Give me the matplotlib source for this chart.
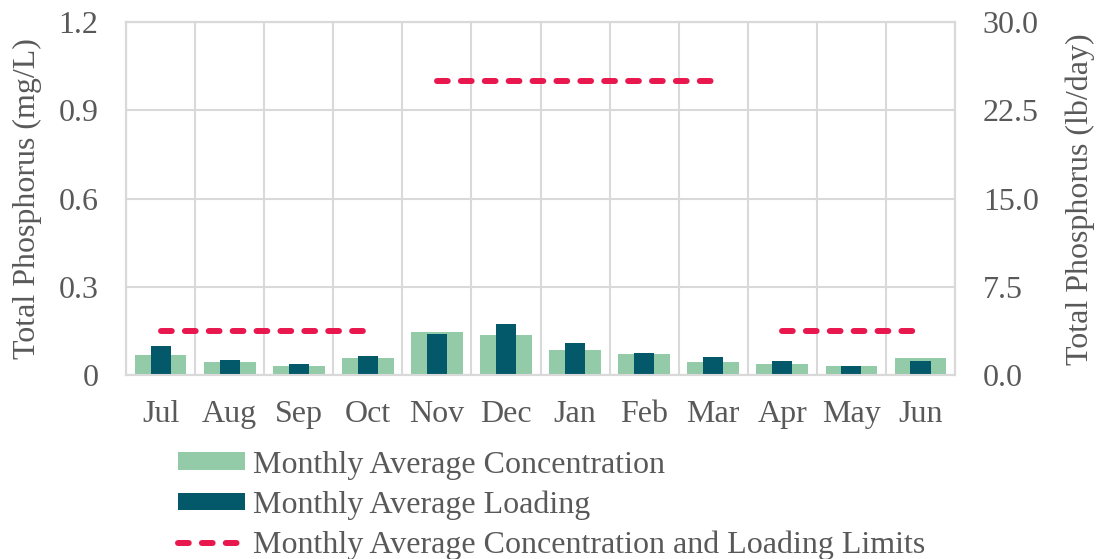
import numpy as np
import matplotlib.pyplot as plt
from matplotlib.patches import Patch
from matplotlib.lines import Line2D

# ---------------------------------------------------------
# data
# ---------------------------------------------------------
months = ["Jul", "Aug", "Sep", "Oct", "Nov", "Dec",
          "Jan", "Feb", "Mar", "Apr", "May", "Jun"]

# monthly average concentration, mg/L (left axis)
concentration = [0.069, 0.046, 0.031, 0.058, 0.148, 0.137,
                 0.088, 0.073, 0.045, 0.039, 0.033, 0.058]

# monthly average loading, lb/day (right axis)
loading = [2.52, 1.33, 0.99, 1.69, 3.51, 4.41,
           2.75, 1.92, 1.58, 1.27, 0.82, 1.25]

# limits in lb/day (right axis) -> 0.15 / 1.0 mg/L on the left
limit_segments = [
    (["Jul", "Aug", "Sep", "Oct"], [3.75, 3.75, 3.75, 3.75]),
    (["Nov", "Dec", "Jan", "Feb", "Mar"], [25.0, 25.0, 25.0, 25.0, 25.0]),
    (["Apr", "May", "Jun"], [3.75, 3.75, 3.75]),
]

conc_color = "#93CBA9"
load_color = "#03586A"
limit_color = "#E8184F"
text_color = "#595959"
grid_color = "#D9D9D9"

plt.rcParams["font.family"] = ["Liberation Serif", "DejaVu Serif"]
plt.rcParams["font.size"] = 23
plt.rcParams["text.color"] = text_color
plt.rcParams["axes.labelcolor"] = text_color
plt.rcParams["xtick.color"] = text_color
plt.rcParams["ytick.color"] = text_color

fig = plt.figure(figsize=(10.98, 5.59), dpi=100)
ax = fig.add_axes([0.1148, 0.3283, 0.7550, 0.6323])
ax2 = ax.twinx()

x = np.arange(len(months))
pos = {m: i for i, m in enumerate(months)}

ax.bar(x, concentration, width=0.75, color=conc_color, zorder=2)
ax2.bar(x, loading, width=0.29, color=load_color, zorder=2)

for seg_months, seg_vals in limit_segments:
    ax2.plot([pos[m] for m in seg_months], seg_vals, color=limit_color,
             lw=4.3, dashes=(1.8, 2.2), dash_capstyle="round", zorder=3)

ax.set_xlim(-0.5, len(months) - 0.5)
ax.set_ylim(0, 1.2)
ax2.set_ylim(0, 30)
ax.set_yticks([0, 0.3, 0.6, 0.9, 1.2])
ax.set_yticklabels(["0", "0.3", "0.6", "0.9", "1.2"])
ax2.set_yticks([0, 7.5, 15, 22.5, 30])
ax2.set_yticklabels(["0.0", "7.5", "15.0", "22.5", "30.0"])
ax.set_xticks(x)
ax.set_xticklabels(months)

# category boundary gridlines + horizontal gridlines
ax.set_xticks(np.arange(-0.5, len(months)), minor=True)
ax.grid(which="minor", axis="x", color=grid_color, lw=1.5, zorder=0)
ax.grid(which="major", axis="y", color=grid_color, lw=1.5, zorder=0)
ax.set_axisbelow(True)

for a in (ax, ax2):
    for s in a.spines.values():
        s.set_color(grid_color)
        s.set_linewidth(1.5)
    a.tick_params(length=0)
ax.tick_params(axis="x", which="both", length=0, pad=18)
ax.tick_params(axis="y", pad=20)
ax2.tick_params(axis="y", pad=20)

ax.set_ylabel("Total Phosphorus (mg/L)", labelpad=12)
ax2.set_ylabel("Total Phosphorus (lb/day)", labelpad=19)

handles = [
    Patch(facecolor=conc_color, edgecolor="none"),
    Patch(facecolor=load_color, edgecolor="none"),
    Line2D([0], [0], color=limit_color, lw=4.3, dashes=(1.8, 2.2),
           dash_capstyle="round"),
]
labels = ["Monthly Average Concentration", "Monthly Average Loading",
          "Monthly Average Concentration and Loading Limits"]
fig.legend(handles, labels, loc="upper left", bbox_to_anchor=(0.162, 0.194),
           frameon=False, borderpad=0, borderaxespad=0, handlelength=2.1,
           handleheight=0.47, handletextpad=0.25, labelspacing=0.34)

fig.savefig("out.png", dpi=100)
